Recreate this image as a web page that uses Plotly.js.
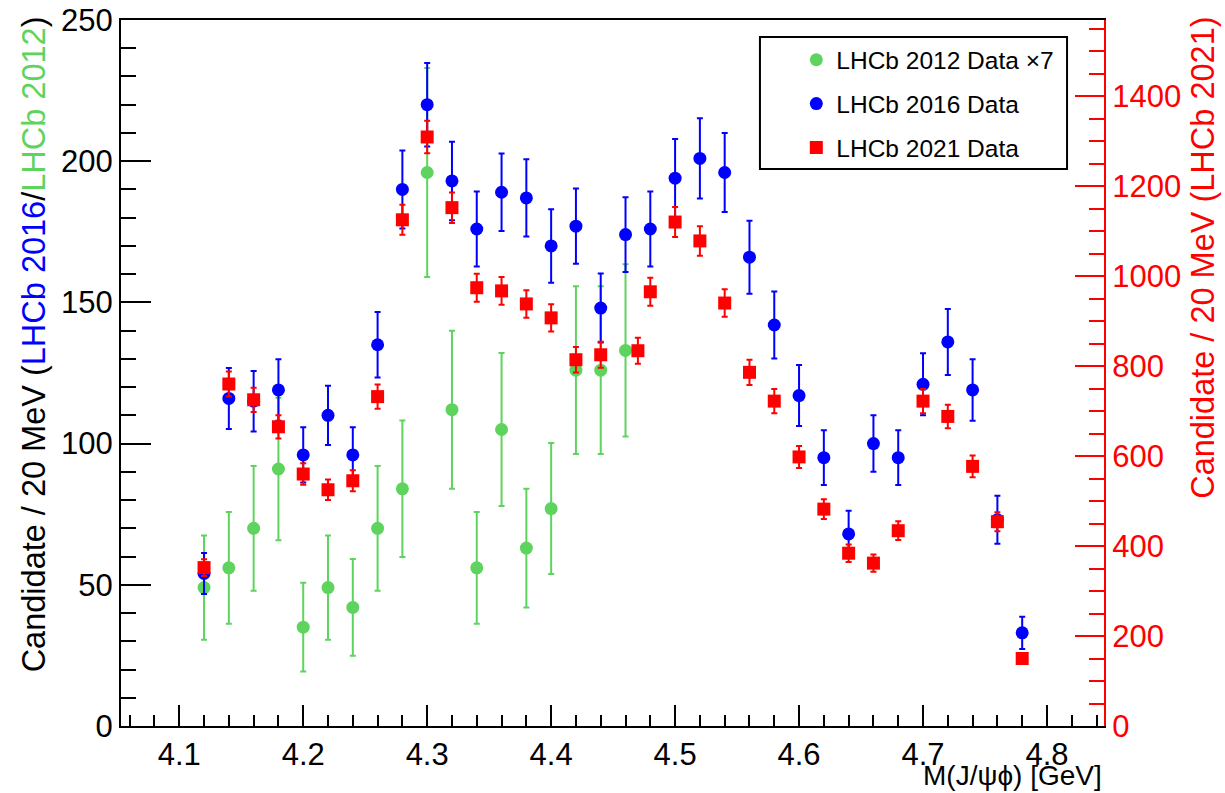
<!DOCTYPE html>
<html>
<head>
<meta charset="utf-8">
<script src="https://cdn.plot.ly/plotly-3.0.1.min.js"></script>
<style>html,body{margin:0;padding:0;background:#fff;}#chart{width:1225px;height:793px;}</style>
</head>
<body>
<div id="chart"></div>
<script>
// LHCb 2012 data (x7), left axis
const x2012 = [4.12,4.14,4.16,4.18,4.20,4.22,4.24,4.26,4.28,4.30,4.32,4.34,4.36,4.38,4.40,4.42,4.44,4.46];
const y2012 = [49,56,70,91,35,49,42,70,84,196,112,56,105,63,77,126,126,133];
const e2012 = [18.5,19.8,22.1,25.2,15.7,18.5,17.1,22.1,24.2,37.0,28.0,19.8,27.1,21.0,23.2,29.7,29.7,30.5];

// LHCb 2016 data, left axis
const x2016 = [4.12,4.14,4.16,4.18,4.20,4.22,4.24,4.26,4.28,4.30,4.32,4.34,4.36,4.38,4.40,4.42,4.44,4.46,4.48,4.50,4.52,4.54,4.56,4.58,4.60,4.62,4.64,4.66,4.68,4.70,4.72,4.74,4.76,4.78];
const y2016 = [54,116,115,119,96,110,96,135,190,220,193,176,189,187,170,177,148,174,176,194,201,196,166,142,117,95,68,100,95,121,136,119,73,33];
const e2016 = [7.3,10.8,10.7,10.9,9.8,10.5,9.8,11.6,13.8,14.8,13.9,13.3,13.7,13.7,13.0,13.3,12.2,13.2,13.3,13.9,14.2,14.0,12.9,11.9,10.8,9.7,8.2,10.0,9.7,11.0,11.7,10.9,8.5,5.7];

// LHCb 2021 data, right axis
const x2021 = [4.12,4.14,4.16,4.18,4.20,4.22,4.24,4.26,4.28,4.30,4.32,4.34,4.36,4.38,4.40,4.42,4.44,4.47,4.48,4.50,4.52,4.54,4.56,4.58,4.60,4.62,4.64,4.66,4.68,4.70,4.72,4.74,4.76,4.78];
const y2021 = [352,760,725,665,560,525,545,732,1125,1309,1152,974,967,938,907,814,825,834,965,1120,1078,940,786,722,598,482,384,362,434,722,688,577,454,150];
const e2021 = [18.8,27.6,26.9,25.8,23.7,22.9,23.3,27.1,33.5,36.2,33.9,31.2,31.1,30.6,30.1,28.5,28.7,28.9,31.1,33.5,32.8,30.7,28.0,26.9,24.5,22.0,19.6,19.0,20.8,26.9,26.2,24.0,21.3,12.2];

const names = ["LHCb 2012 Data \u00d77", "LHCb 2016 Data", "LHCb 2021 Data"];
const xTitle = "M(J/\u03c8\u03d5) [GeV]";
const leftTitle = "Candidate / 20 MeV (<span style='color:#0000ff'>LHCb 2016</span>/<span style='color:#5ed45e'>LHCb 2012</span>)";
const rightTitle = "Candidate / 20 MeV (LHCb 2021)";

const GREEN = '#5ed45e', BLUE = '#0000ff', RED = '#ff0000';
const FONT = '"Liberation Sans", Arial, Helvetica, sans-serif';

const traces = [
  {x: x2012, y: y2012, name: names[0], type: 'scatter', mode: 'markers', legendgroup: 'g1',
   marker: {color: GREEN, size: 13, symbol: 'circle', line: {width: 0}},
   error_y: {type: 'data', array: e2012, color: GREEN, thickness: 2, width: 3}},
  {x: x2016, y: y2016, name: names[1], type: 'scatter', mode: 'markers', legendgroup: 'g2',
   marker: {color: BLUE, size: 13, symbol: 'circle', line: {width: 0}},
   error_y: {type: 'data', array: e2016, color: BLUE, thickness: 2, width: 3}},
  {x: x2021, y: y2021, name: names[2], type: 'scatter', mode: 'markers', legendgroup: 'g3', yaxis: 'y2',
   marker: {color: RED, size: 13, symbol: 'square', line: {width: 0}},
   error_y: {type: 'data', array: e2021, color: RED, thickness: 2, width: 3}}
];

const layout = {
  width: 1225, height: 793,
  margin: {l: 121, r: 121, t: 20, b: 67},
  paper_bgcolor: '#fff', plot_bgcolor: '#fff',
  font: {family: FONT, color: '#000', size: 31},
  showlegend: true,
  legend: {x: 0.687, y: 0.9755, xanchor: 'left', yanchor: 'top', bgcolor: 'rgba(0,0,0,0)',
           borderwidth: 0, font: {size: 24.5, family: FONT, color: '#000'}, tracegroupgap: 9,
           traceorder: 'grouped', itemsizing: 'trace'},
  xaxis: {range: [4.053, 4.846], tick0: 4.0, dtick: 0.1, tickformat: '.1f',
          ticks: 'inside', ticklen: 21, tickwidth: 2, tickcolor: '#000',
          minor: {dtick: 0.02, ticks: 'inside', ticklen: 11, tickwidth: 2, tickcolor: '#000', showgrid: false},
          showline: true, linecolor: '#000', linewidth: 2, mirror: true,
          showgrid: false, zeroline: false, tickfont: {size: 31, family: FONT, color: '#000'}},
  yaxis: {range: [0, 250], tick0: 0, dtick: 50,
          ticks: 'inside', ticklen: 30, tickwidth: 2, tickcolor: '#000',
          minor: {dtick: 10, ticks: 'inside', ticklen: 15, tickwidth: 2, tickcolor: '#000', showgrid: false},
          showline: true, linecolor: '#000', linewidth: 2,
          showgrid: false, zeroline: false, tickfont: {size: 31, family: FONT, color: '#000'}},
  yaxis2: {range: [0, 1569], tick0: 0, dtick: 200, overlaying: 'y', side: 'right',
          ticks: 'inside', ticklen: 29, tickwidth: 2, tickcolor: RED,
          minor: {dtick: 50, ticks: 'inside', ticklen: 15, tickwidth: 2, tickcolor: RED, showgrid: false},
          showline: true, linecolor: RED, linewidth: 2,
          showgrid: false, zeroline: false, tickfont: {size: 31, family: FONT, color: RED}},
  shapes: [
    {type: 'rect', xref: 'paper', yref: 'paper', x0: 0.650, x1: 0.9624, y0: 0.789, y1: 0.976,
     line: {color: '#000', width: 2}, fillcolor: 'rgba(0,0,0,0)'}
  ],
  annotations: [
    {text: leftTitle, xref: 'paper', yref: 'paper', x: -0.0885, y: 1.008, xanchor: 'center', yanchor: 'top',
     textangle: -90, showarrow: false, font: {size: 32.5, family: FONT, color: '#000'}},
    {text: rightTitle, xref: 'paper', yref: 'paper', x: 1.1012, y: 1.008, xanchor: 'center', yanchor: 'top',
     textangle: -90, showarrow: false, font: {size: 32.5, family: FONT, color: RED}},
    {text: xTitle, xref: 'paper', yref: 'paper', x: 1, y: -0.0695, xanchor: 'right', yanchor: 'middle',
     showarrow: false, font: {size: 28, family: FONT, color: '#000'}}
  ]
};

Plotly.newPlot('chart', traces, layout, {displayModeBar: false, staticPlot: true});
</script>
</body>
</html>
